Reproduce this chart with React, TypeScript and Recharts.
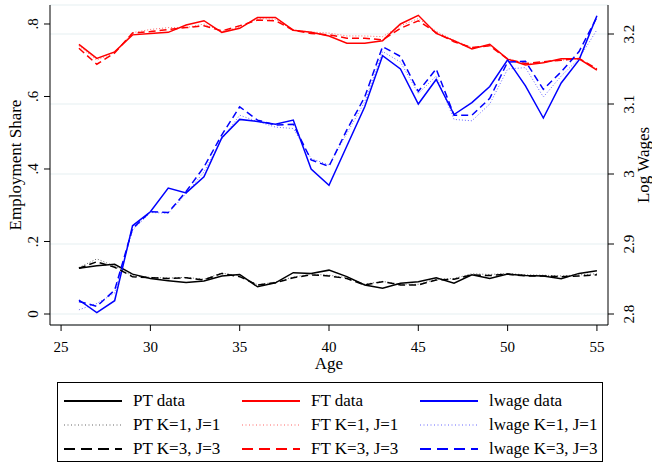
import { LineChart, Line, XAxis, YAxis, CartesianGrid } from 'recharts';

const ages = [26, 27, 28, 29, 30, 31, 32, 33, 34, 35, 36, 37, 38, 39, 40, 41, 42, 43, 44, 45, 46, 47, 48, 49, 50, 51, 52, 53, 54, 55];

// employment shares (left axis)
const ptData = [0.126, 0.133, 0.137, 0.110, 0.098, 0.092, 0.087, 0.091, 0.105, 0.109, 0.075, 0.086, 0.114, 0.112, 0.121, 0.103, 0.080, 0.071, 0.085, 0.089, 0.100, 0.085, 0.108, 0.098, 0.110, 0.106, 0.105, 0.097, 0.112, 0.119];
const ptK1 = [0.128, 0.152, 0.132, 0.105, 0.101, 0.099, 0.101, 0.096, 0.113, 0.105, 0.081, 0.088, 0.102, 0.110, 0.107, 0.100, 0.082, 0.090, 0.082, 0.082, 0.096, 0.098, 0.111, 0.109, 0.112, 0.108, 0.107, 0.105, 0.108, 0.111];
const ptK3 = [0.126, 0.144, 0.129, 0.103, 0.100, 0.098, 0.100, 0.094, 0.112, 0.103, 0.080, 0.086, 0.100, 0.108, 0.105, 0.098, 0.080, 0.089, 0.080, 0.080, 0.094, 0.096, 0.108, 0.106, 0.110, 0.105, 0.105, 0.103, 0.105, 0.108];
const ftData = [0.744, 0.705, 0.723, 0.770, 0.774, 0.777, 0.797, 0.809, 0.777, 0.788, 0.818, 0.818, 0.783, 0.777, 0.767, 0.747, 0.747, 0.754, 0.800, 0.824, 0.774, 0.754, 0.731, 0.744, 0.703, 0.687, 0.693, 0.704, 0.704, 0.673];
const ftK1 = [0.740, 0.700, 0.722, 0.776, 0.785, 0.790, 0.790, 0.800, 0.780, 0.790, 0.815, 0.813, 0.783, 0.778, 0.775, 0.767, 0.767, 0.765, 0.795, 0.815, 0.780, 0.755, 0.735, 0.740, 0.705, 0.690, 0.695, 0.700, 0.705, 0.676];
const ftK3 = [0.733, 0.689, 0.720, 0.775, 0.779, 0.785, 0.790, 0.795, 0.781, 0.795, 0.811, 0.809, 0.783, 0.774, 0.770, 0.761, 0.761, 0.756, 0.788, 0.809, 0.776, 0.751, 0.735, 0.740, 0.703, 0.691, 0.696, 0.700, 0.705, 0.676];

// log wages (right axis)
const lwData = [2.820, 2.802, 2.819, 2.926, 2.946, 2.980, 2.973, 2.996, 3.052, 3.078, 3.075, 3.071, 3.077, 3.007, 2.984, 3.040, 3.096, 3.169, 3.150, 3.100, 3.135, 3.085, 3.102, 3.125, 3.163, 3.126, 3.080, 3.130, 3.163, 3.226];
const lwK1 = [2.806, 2.815, 2.830, 2.920, 2.945, 2.944, 2.972, 3.003, 3.050, 3.084, 3.075, 3.067, 3.065, 3.022, 3.013, 3.058, 3.103, 3.175, 3.160, 3.115, 3.140, 3.078, 3.076, 3.100, 3.150, 3.152, 3.110, 3.140, 3.165, 3.206];
const lwK3 = [2.818, 2.811, 2.834, 2.922, 2.946, 2.945, 2.975, 3.010, 3.056, 3.096, 3.077, 3.070, 3.071, 3.020, 3.011, 3.063, 3.110, 3.182, 3.168, 3.118, 3.150, 3.084, 3.084, 3.108, 3.160, 3.161, 3.121, 3.146, 3.175, 3.224];

const xTicks = [25, 30, 35, 40, 45, 50, 55];
const shareTicks = [0, 0.2, 0.4, 0.6, 0.8];
const wageTicks = [2.8, 2.9, 3, 3.1, 3.2];

const FONT = '"Liberation Serif", "DejaVu Serif", serif';

const data = ages.map((age, i) => ({
  age,
  pt: ptData[i], ptK1: ptK1[i], ptK3: ptK3[i],
  ft: ftData[i], ftK1: ftK1[i], ftK3: ftK3[i],
  lw: lwData[i], lwK1: lwK1[i], lwK3: lwK3[i],
}));

const SERIES = [
  { key: 'pt', name: 'PT data', axis: 'left', color: '#000000', style: 'solid' },
  { key: 'ft', name: 'FT data', axis: 'left', color: '#ff0000', style: 'solid' },
  { key: 'lw', name: 'lwage data', axis: 'right', color: '#0000ff', style: 'solid' },
  { key: 'ptK1', name: 'PT K=1, J=1', axis: 'left', color: '#000000', style: 'dot' },
  { key: 'ftK1', name: 'FT K=1, J=1', axis: 'left', color: '#ff0000', style: 'dot' },
  { key: 'lwK1', name: 'lwage K=1, J=1', axis: 'right', color: '#0000ff', style: 'dot' },
  { key: 'ptK3', name: 'PT K=3, J=3', axis: 'left', color: '#000000', style: 'dash' },
  { key: 'ftK3', name: 'FT K=3, J=3', axis: 'left', color: '#ff0000', style: 'dash' },
  { key: 'lwK3', name: 'lwage K=3, J=3', axis: 'right', color: '#0000ff', style: 'dash' },
];

const lineProps = (style: string) => {
  if (style === 'dot') return { strokeWidth: 1, strokeDasharray: '1 2', strokeOpacity: 0.6 };
  if (style === 'dash') return { strokeWidth: 1.5, strokeDasharray: '7 4' };
  return { strokeWidth: 1.5 };
};

const shareFmt = (v: number) => (v === 0 ? '0' : v.toFixed(1).replace(/^0/, ''));

const LeftTick = ({ x, y, payload }: any) => {
  const cx = x - 9;
  return (
    <text x={cx} y={y} transform={`rotate(-90 ${cx} ${y})`} textAnchor="middle" dominantBaseline="central"
      fontSize={15} fontFamily={FONT} fill="#000">{shareFmt(payload.value)}</text>
  );
};

const RightTick = ({ x, y, payload }: any) => {
  const cx = x + 13;
  return (
    <text x={cx} y={y} transform={`rotate(-90 ${cx} ${y})`} textAnchor="middle" dominantBaseline="central"
      fontSize={15} fontFamily={FONT} fill="#000">{String(payload.value)}</text>
  );
};

const VLabel = ({ viewBox, text, dx }: any) => {
  const cx = viewBox.x + dx;
  const cy = viewBox.y + viewBox.height / 2;
  return (
    <text x={cx} y={cy} transform={`rotate(-90 ${cx} ${cy})`} textAnchor="middle" dominantBaseline="central"
      fontSize={17} fontFamily={FONT} fill="#000">{text}</text>
  );
};

function LegendBox() {
  const rows = [0, 1, 2];
  const cols = [0, 1, 2];
  return (
    <div style={{ position: 'absolute', left: 57, top: 382, width: 544, height: 78, border: '1px solid #000', fontFamily: FONT, fontSize: 17 }}>
      {rows.map(r => cols.map(c => {
        const s = SERIES[r * 3 + c];
        const p = lineProps(s.style);
        return (
          <div key={s.key} style={{ position: 'absolute', left: 6 + c * 178, top: 7 + r * 24, height: 22, display: 'flex', alignItems: 'center', whiteSpace: 'nowrap' }}>
            <svg width={60} height={10} style={{ marginRight: 9 }}>
              <line x1={0} y1={5} x2={58} y2={5} stroke={s.color} strokeWidth={s.style === 'dot' ? 1 : 2}
                strokeDasharray={s.style === 'dot' ? '1 2.5' : s.style === 'dash' ? '11 6' : undefined}
                strokeOpacity={p.strokeOpacity ?? 1} />
            </svg>
            <span>{s.name}</span>
          </div>
        );
      }))}
    </div>
  );
}

export default function App() {
  return (
    <div style={{ position: 'absolute', left: 0, top: 0, width: 652, height: 466, background: '#fff' }}>
      <LineChart width={652} height={466} data={data} margin={{ top: 5, right: 0, bottom: 101, left: 0 }}>
        <CartesianGrid yAxisId="right" horizontal vertical={false} stroke="#e6eff2" strokeWidth={1.2} />
        <XAxis dataKey="age" type="number" domain={[24.38, 55.62]} ticks={xTicks} allowDataOverflow height={40}
          tickSize={6} tickMargin={10} stroke="#000" axisLine={{ stroke: '#000' }}
          tick={{ fontSize: 15, fontFamily: FONT, fill: '#000' }}
          label={{ content: ({ viewBox }: any) => (
            <text x={viewBox.x + viewBox.width / 2} y={363} textAnchor="middle" dominantBaseline="central"
              fontSize={17} fontFamily={FONT} fill="#000">Age</text>
          ) }} />
        <YAxis yAxisId="left" orientation="left" width={50} domain={[-0.03034, 0.8524]} ticks={shareTicks}
          allowDataOverflow tickSize={6} tickMargin={2} stroke="#000" tick={<LeftTick />}
          label={{ content: (p: any) => <VLabel {...p} text="Employment Share" dx={15} /> }} />
        <YAxis yAxisId="right" orientation="right" width={44} domain={[2.78429, 3.24143]} ticks={wageTicks}
          allowDataOverflow tickSize={6} tickMargin={2} stroke="#000" tick={<RightTick />}
          label={{ content: (p: any) => <VLabel {...p} text="Log Wages" dx={35} /> }} />
        {SERIES.map(s => (
          <Line key={s.key} yAxisId={s.axis} dataKey={s.key} name={s.name} type="linear" stroke={s.color}
            dot={false} activeDot={false} isAnimationActive={false} {...lineProps(s.style)} />
        ))}
      </LineChart>
      <LegendBox />
    </div>
  );
}
